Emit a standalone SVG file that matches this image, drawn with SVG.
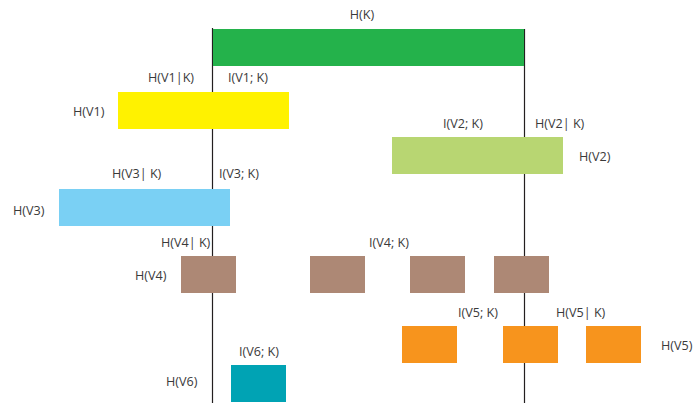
<svg xmlns="http://www.w3.org/2000/svg" width="693" height="403" viewBox="0 0 693 403">
<style>
text{font-family:"Open Sans","Liberation Sans",sans-serif;font-size:12.6px;fill:#3a3a3a}
.ax{stroke:#231f20;stroke-width:1.2}
</style>
<rect width="693" height="403" fill="#fff"/>
<g id="connectors">
<line class="ax" x1="212.5" y1="28" x2="212.5" y2="403"/>
<line class="ax" x1="524.5" y1="29" x2="524.5" y2="403"/>
</g>
<g id="HK">
<rect x="213" y="29" width="311" height="37" fill="#24b24b"/>
<text x="362" y="19" text-anchor="middle">H(K)</text>
</g>
<g id="HV1">
<rect x="118" y="92" width="171" height="37" fill="#fff200"/>
<text x="148" y="82">H(V1|K)</text>
<text x="228" y="82">I(V1; K)</text>
<text x="73" y="116">H(V1)</text>
</g>
<g id="HV2">
<rect x="392" y="137" width="171" height="37" fill="#b8d672"/>
<text x="443" y="128">I(V2; K)</text>
<text x="535" y="128">H(V2| K)</text>
<text x="579" y="161">H(V2)</text>
</g>
<g id="HV3">
<rect x="59" y="189" width="171" height="37" fill="#7ad0f4"/>
<text x="112" y="178">H(V3| K)</text>
<text x="219" y="178">I(V3; K)</text>
<text x="13" y="215">H(V3)</text>
</g>
<g id="HV4">
<rect x="181" y="256" width="55" height="37" fill="#ad8875"/>
<rect x="310" y="256" width="55" height="37" fill="#ad8875"/>
<rect x="410" y="256" width="55" height="37" fill="#ad8875"/>
<rect x="494" y="256" width="55" height="37" fill="#ad8875"/>
<text x="161" y="247">H(V4| K)</text>
<text x="369" y="247">I(V4; K)</text>
<text x="135" y="280">H(V4)</text>
</g>
<g id="HV5">
<rect x="402" y="326" width="55" height="37" fill="#f7941d"/>
<rect x="503" y="326" width="55" height="37" fill="#f7941d"/>
<rect x="586" y="326" width="55" height="37" fill="#f7941d"/>
<text x="458" y="317">I(V5; K)</text>
<text x="556" y="317">H(V5| K)</text>
<text x="661" y="350">H(V5)</text>
</g>
<g id="HV6">
<rect x="231" y="365" width="55" height="37" fill="#00a3b4"/>
<text x="239" y="356">I(V6; K)</text>
<text x="166" y="386">H(V6)</text>
</g>
</svg>
